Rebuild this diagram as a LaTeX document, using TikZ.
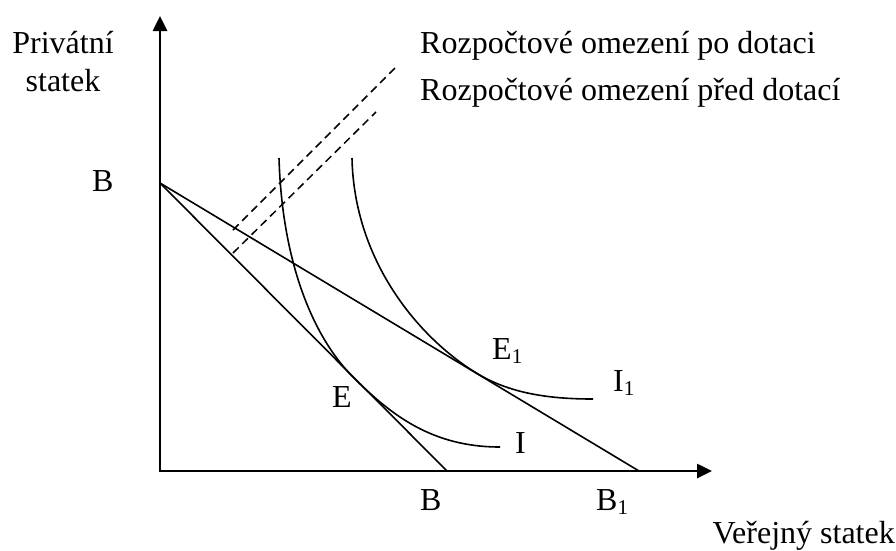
\documentclass[tikz,border=0pt]{standalone}
\usepackage{fontspec}
\setmainfont{Liberation Serif}
\usetikzlibrary{arrows.meta}
\newcommand\mysubscr[1]{\raisebox{-4pt}{\fontsize{21}{21}\selectfont #1}}
\begin{document}
\begin{tikzpicture}[x=1pt,y=-1pt,
  lbl/.style={inner sep=0pt, anchor=base west, font=\fontsize{32}{38}\selectfont},
  axis/.style={line width=2.6pt, {Triangle[length=15pt,width=14pt]}-{Triangle[length=15pt,width=14pt]}},
  curveline/.style={line width=1.6pt},
  dashline/.style={line width=1.5pt, dash pattern=on 8pt off 5pt}]
\useasboundingbox (0,0) rectangle (896,550);
% axes
\coordinate (O) at (160,471);
\coordinate (ytip) at (160,16);
\coordinate (xtip) at (712,471);
\draw[axis] (ytip) -- (O) -- (xtip);
% budget lines
\coordinate (B0) at (160,183);
\coordinate (Bx) at (447,471);
\coordinate (B1x) at (639,471);
\draw[curveline] (B0) -- (Bx);
\draw[curveline] (B0) -- (B1x);
% dashed leader lines
\coordinate (d1a) at (233,230);
\coordinate (d1b) at (395,68);
\coordinate (d2a) at (233,253);
\coordinate (d2b) at (376,112);
\draw[dashline] (d1a) -- (d1b);
\draw[dashline] (d2a) -- (d2b);
% indifference curves
\coordinate (Itop) at (279,158);
\coordinate (Ept) at (353,377);
\coordinate (Iend) at (500,447);
\draw[curveline] (Itop) .. controls (282,262) and (313,337) .. (Ept)
  .. controls (391,415) and (432,447) .. (Iend);
\coordinate (I1top) at (352,158);
\coordinate (E1pt) at (478,374);
\coordinate (I1end) at (593,399);
\draw[curveline] (I1top) .. controls (354,260) and (418,338) .. (E1pt)
  .. controls (513,395) and (555,399) .. (I1end);
% labels
\node[lbl, anchor=base] (priv1) at (63,53) {Privátní};
\node[lbl, anchor=base] (priv2) at (63,91) {statek};
\node[lbl] (By) at (92,191) {B};
\node[lbl] (po) at (420,53) {Rozpočtové omezení po dotaci};
\node[lbl] (pred) at (420,100) {Rozpočtové omezení před dotací};
\node[lbl] (E) at (332,407) {E};
\node[lbl] (E1) at (492,359) {E\mysubscr{1}};
\node[lbl] (I1) at (613,391) {I\mysubscr{1}};
\node[lbl] (I) at (515,453) {I};
\node[lbl] (Bb) at (420,510) {B};
\node[lbl] (B1b) at (596,510) {B\mysubscr{1}};
\node[lbl, anchor=base east] (ver) at (895,543) {Veřejný statek};
\end{tikzpicture}
\end{document}
